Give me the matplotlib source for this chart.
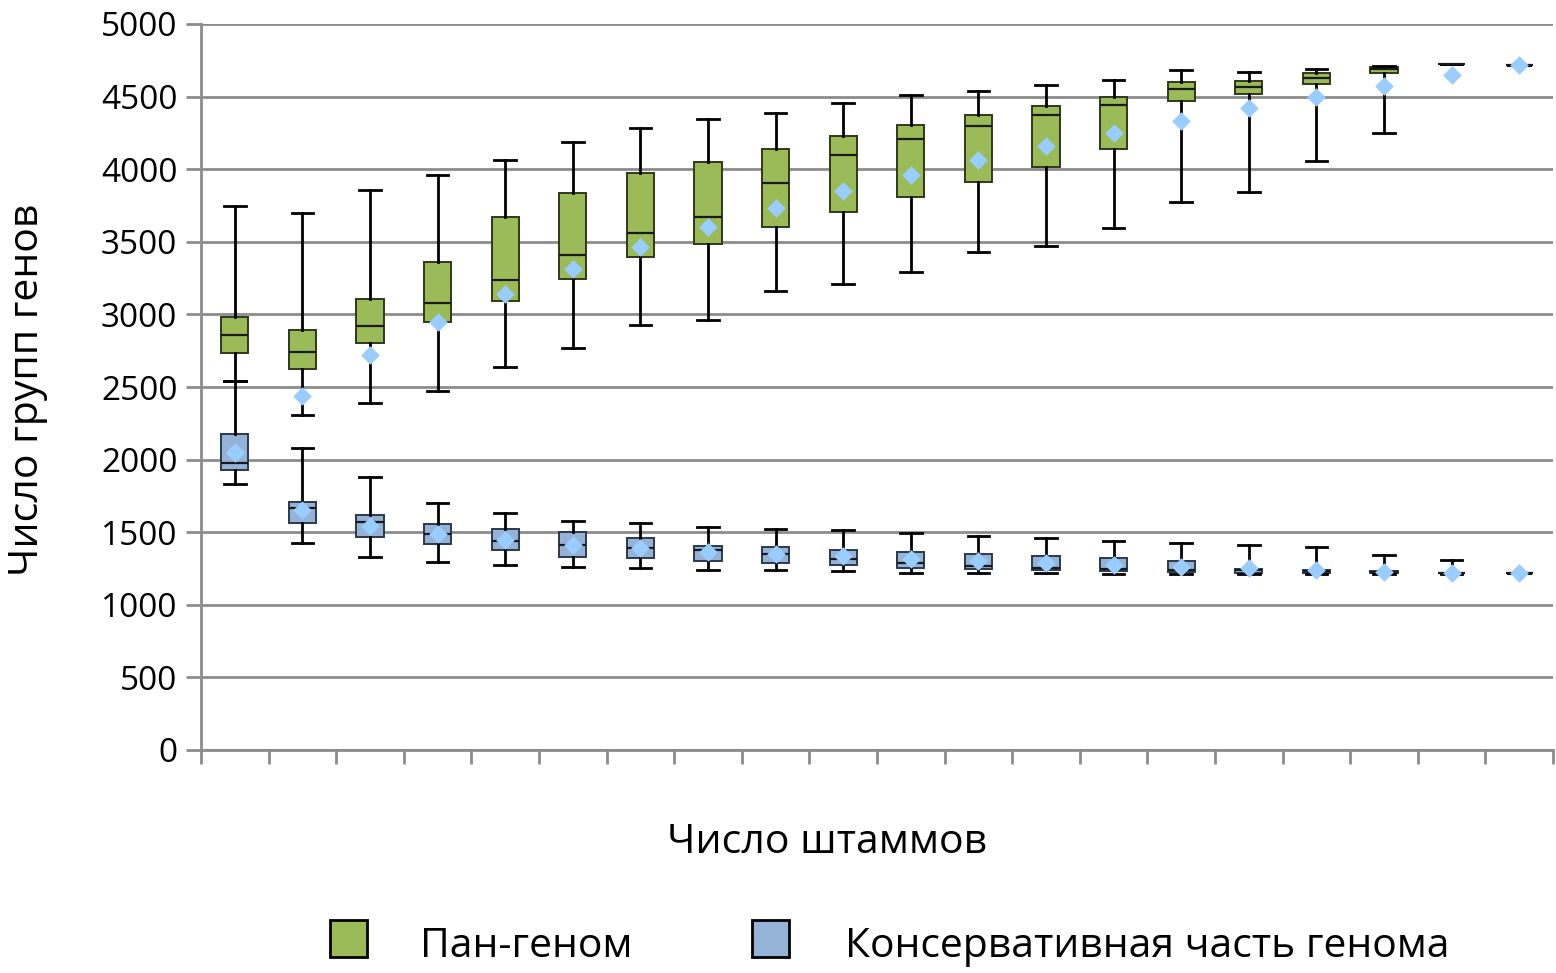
import matplotlib
matplotlib.use("Agg")
import matplotlib.pyplot as plt
from matplotlib.patches import Rectangle
import numpy as np

plt.rcParams['font.family'] = ['Open Sans', 'DejaVu Sans']

n_strains = list(range(1, 21))

# Pan-genome (Пан-геном)
pan_wlo = [2540, 2309, 2390, 2472, 2640, 2771, 2927, 2959, 3159, 3207, 3292, 3432, 3473, 3597, 3774, 3843, 4056, 4247, 4725, 4718]
pan_q1  = [2734, 2622, 2801, 2948, 3092, 3244, 3393, 3487, 3600, 3705, 3809, 3910, 4015, 4141, 4472, 4518, 4585, 4662, 4725, 4718]
pan_med = [2858, 2739, 2918, 3081, 3239, 3407, 3563, 3668, 3903, 4100, 4208, 4298, 4373, 4444, 4552, 4566, 4628, 4693, 4725, 4718]
pan_q3  = [2980, 2890, 3104, 3359, 3668, 3836, 3976, 4050, 4141, 4226, 4307, 4376, 4437, 4499, 4601, 4610, 4660, 4701, 4725, 4718]
pan_whi = [3749, 3700, 3857, 3960, 4063, 4185, 4282, 4343, 4387, 4458, 4509, 4539, 4580, 4614, 4683, 4667, 4688, 4713, 4725, 4718]
pan_mean = [2050, 2438, 2720, 2945, 3140, 3313, 3464, 3604, 3733, 3850, 3958, 4061, 4158, 4247, 4334, 4419, 4499, 4573, 4649, 4718]

# Core genome (Консервативная часть генома)
core_wlo = [1833, 1424, 1330, 1296, 1275, 1261, 1252, 1241, 1238, 1234, 1222, 1217, 1217, 1215, 1210, 1212, 1213, 1215, 1215, 1218]
core_q1  = [1927, 1564, 1466, 1422, 1378, 1332, 1319, 1300, 1287, 1275, 1255, 1250, 1241, 1233, 1229, 1222, 1219, 1219, 1217, 1218]
core_med = [1977, 1670, 1571, 1486, 1440, 1415, 1394, 1374, 1353, 1316, 1288, 1269, 1255, 1248, 1241, 1238, 1231, 1226, 1220, 1218]
core_q3  = [2177, 1711, 1619, 1557, 1523, 1498, 1463, 1408, 1397, 1378, 1363, 1347, 1333, 1321, 1304, 1248, 1238, 1233, 1222, 1218]
core_whi = [2540, 2080, 1881, 1702, 1631, 1578, 1560, 1537, 1521, 1514, 1495, 1472, 1460, 1441, 1429, 1415, 1399, 1342, 1307, 1218]
core_mean = [2048, 1654, 1544, 1488, 1447, 1415, 1392, 1365, 1351, 1337, 1316, 1300, 1290, 1276, 1262, 1252, 1241, 1229, 1222, 1222]

y_ticks = [0, 500, 1000, 1500, 2000, 2500, 3000, 3500, 4000, 4500, 5000]
legend_labels = ['Пан-геном', 'Консервативная часть генома']

GREEN = '#9BBB59'
BLUE = '#95B3D7'
DIAMOND = '#99CCFF'
GRID = '#8C8C8C'

W, H = 1556, 973
fig = plt.figure(figsize=(W / 100, H / 100), dpi=100)
ax = fig.add_axes([201 / W, 1 - 750 / H, (1553 - 201) / W, (750 - 24) / H])

pos = np.arange(1, len(n_strains) + 1)

def stats(lo, q1, med, q3, hi):
    return [dict(whislo=a, q1=b, med=c, q3=d, whishi=e, fliers=[])
            for a, b, c, d, e in zip(lo, q1, med, q3, hi)]

common = dict(positions=pos, widths=0.4, patch_artist=True, showfliers=False,
              whiskerprops=dict(color='black', lw=2),
              capprops=dict(color='black', lw=2),
              medianprops=dict(color='#1a1a1a', lw=1.6),
              manage_ticks=False)

bp1 = ax.bxp(stats(pan_wlo, pan_q1, pan_med, pan_q3, pan_whi),
             boxprops=dict(facecolor=GREEN, edgecolor='#2e3a1a', lw=1.4), **common)
bp2 = ax.bxp(stats(core_wlo, core_q1, core_med, core_q3, core_whi),
             boxprops=dict(facecolor=BLUE, edgecolor='#2b3a4c', lw=1.4), **common)
for c in bp1['caps'] + bp2['caps']:
    xd = c.get_xdata()
    m = (xd[0] + xd[1]) / 2
    c.set_xdata([m - 0.16, m + 0.16])

ax.scatter(pos, pan_mean, marker='D', s=90, color=DIAMOND, zorder=5, linewidths=0)
ax.scatter(pos, core_mean, marker='D', s=90, color=DIAMOND, zorder=5, linewidths=0)

ax.set_xlim(0.5, len(n_strains) + 0.5)
ax.set_ylim(0, 5000)
ax.set_yticks(y_ticks)
ax.set_yticklabels([str(v) for v in y_ticks], fontsize=24)
ax.set_xticks(np.arange(0.5, len(n_strains) + 1.0, 1.0))
ax.set_xticklabels([])
ax.tick_params(axis='x', direction='out', length=10, width=2, color=GRID)
ax.tick_params(axis='y', direction='out', length=11, width=2, color=GRID, pad=6)
ax.yaxis.grid(True, color=GRID, lw=2)
ax.set_axisbelow(True)
for s in ['top', 'right']:
    ax.spines[s].set_visible(False)
for s in ['left', 'bottom']:
    ax.spines[s].set_color(GRID)
    ax.spines[s].set_linewidth(2)

fig.text(827 / W, 1 - 843 / H, 'Число штаммов', fontsize=29.5, ha='center', va='center')
fig.text(28 / W, 1 - 390 / H, 'Число групп генов', fontsize=29.5, ha='center', va='center',
         rotation=90)

# legend
for (x0, col), (tx, lab) in zip([(330, GREEN), (752, BLUE)], [(420, legend_labels[0]), (845, legend_labels[1])]):
    fig.add_artist(Rectangle((x0 / W, 1 - 957 / H), 37 / W, 37 / H, transform=fig.transFigure,
                             facecolor=col, edgecolor='black', lw=2))
    fig.text(tx / W, 1 - 947 / H, lab, fontsize=29.4, ha='left', va='center')

fig.savefig('out.png', dpi=100)
